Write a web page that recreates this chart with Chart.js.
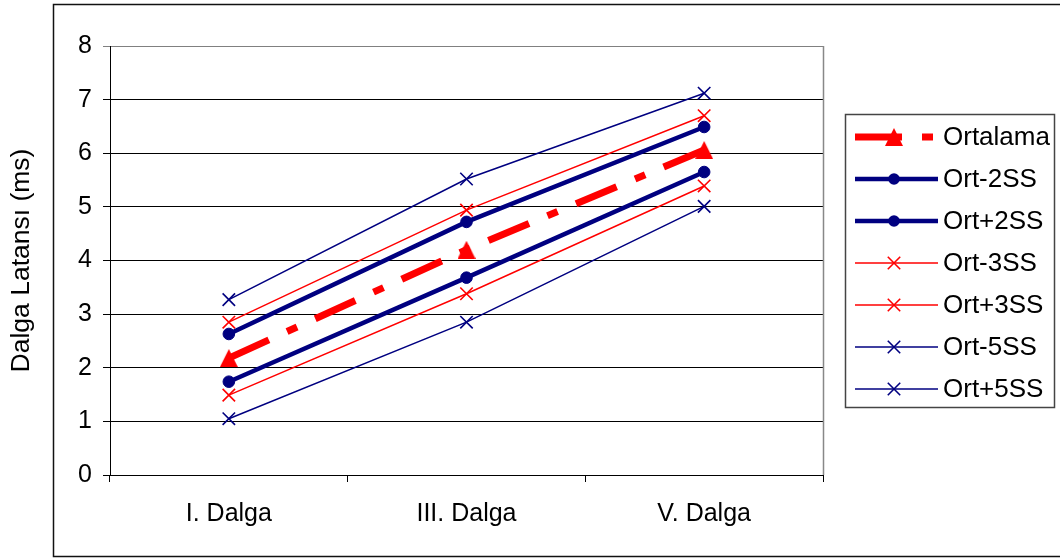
<!DOCTYPE html>
<html>
<head>
<meta charset="utf-8">
<script src="https://cdn.jsdelivr.net/npm/chart.js@4/dist/chart.umd.min.js"></script>
<style>
  html, body { margin: 0; padding: 0; background: #fff; }
  #wrap { width: 1060px; height: 560px; }
</style>
</head>
<body>
<div id="wrap"><canvas id="c" width="1060" height="560"></canvas></div>
<script>
// Wave latency categories and series (ms)
const categories = ['I. Dalga', 'III. Dalga', 'V. Dalga'];
const seriesNames = ['Ortalama', 'Ort-2SS', 'Ort+2SS', 'Ort-3SS', 'Ort+3SS', 'Ort-5SS', 'Ort+5SS'];
const ortalama = [2.18, 4.20, 6.06];
const ortMinus2 = [1.74, 3.68, 5.65];
const ortPlus2 = [2.63, 4.72, 6.49];
const ortMinus3 = [1.49, 3.38, 5.39];
const ortPlus3 = [2.85, 4.94, 6.70];
const ortMinus5 = [1.05, 2.85, 5.01];
const ortPlus5 = [3.27, 5.52, 7.12];
const yTicks = [0, 1, 2, 3, 4, 5, 6, 7, 8];
const yTitle = 'Dalga Latansı (ms)';

const FONT = '"Liberation Sans", Arial, sans-serif';
const RED = '#ff0000';
const NAVY = '#000080';

// Filled isosceles triangle marker (as wide as it is tall)
function triangleMarker(size, color) {
  const c = document.createElement('canvas');
  c.width = size; c.height = size;
  const g = c.getContext('2d');
  g.fillStyle = color;
  g.beginPath();
  g.moveTo(size / 2, 0);
  g.lineTo(size, size);
  g.lineTo(0, size);
  g.closePath();
  g.fill();
  return c;
}
const TRIANGLE = triangleMarker(18, RED);

function series(label, data, color, width, style, radius, dash) {
  return {
    label, data,
    borderColor: color, backgroundColor: color,
    borderWidth: width,
    borderDash: dash || [],
    borderCapStyle: 'butt',
    pointStyle: style,
    pointRadius: radius,
    pointHoverRadius: radius,
    pointBorderColor: color,
    pointBackgroundColor: color,
    pointBorderWidth: style === 'crossRot' ? 1.6 : 1,
    tension: 0,
    fill: false
  };
}

const datasets = [
  series(seriesNames[0], ortalama, RED, 7, TRIANGLE, 10, [44, 20, 11, 20]),
  series(seriesNames[1], ortMinus2, NAVY, 4.5, 'circle', 5.8),
  series(seriesNames[2], ortPlus2, NAVY, 4.5, 'circle', 5.8),
  series(seriesNames[3], ortMinus3, RED, 1.5, 'crossRot', 8.8),
  series(seriesNames[4], ortPlus3, RED, 1.5, 'crossRot', 8.8),
  series(seriesNames[5], ortMinus5, NAVY, 1.5, 'crossRot', 8.8),
  series(seriesNames[6], ortPlus5, NAVY, 1.5, 'crossRot', 8.8)
];

// Small marker painter used by the legend
function paintMarker(ctx, ds, x, y) {
  const r = ds.pointRadius;
  ctx.save();
  ctx.setLineDash([]);
  ctx.fillStyle = ds.pointBackgroundColor;
  ctx.strokeStyle = ds.pointBorderColor;
  ctx.lineWidth = ds.pointBorderWidth;
  ctx.beginPath();
  if (ds.pointStyle === 'circle') {
    ctx.arc(x, y, r, 0, Math.PI * 2);
    ctx.fill();
  } else if (ds.pointStyle instanceof HTMLCanvasElement) {
    const img = ds.pointStyle;
    ctx.drawImage(img, x - img.width / 2, y - img.height / 2);
  } else {
    const d = Math.cos(Math.PI / 4) * r;
    ctx.moveTo(x - d, y - d); ctx.lineTo(x + d, y + d);
    ctx.moveTo(x + d, y - d); ctx.lineTo(x - d, y + d);
    ctx.stroke();
  }
  ctx.restore();
}

const framePlugin = {
  id: 'frame',
  beforeDraw(chart) {
    const ctx = chart.ctx;
    ctx.save();
    ctx.fillStyle = '#fff';
    ctx.fillRect(0, 0, chart.width, chart.height);
    ctx.strokeStyle = '#111';
    ctx.lineWidth = 1.5;
    ctx.strokeRect(53.5, 4.5, 1020, 552);
    ctx.restore();
  },
  afterDatasetsDraw(chart) {
    const ctx = chart.ctx;
    const a = chart.chartArea;
    ctx.save();
    // right edge of plot area
    ctx.strokeStyle = '#888';
    ctx.lineWidth = 1.5;
    ctx.beginPath();
    ctx.moveTo(a.right + 0.5, a.top);
    ctx.lineTo(a.right + 0.5, a.bottom);
    ctx.stroke();

    // legend box
    const bx = 845.5, by = 114.5, bw = 209, bh = 293;
    ctx.strokeStyle = '#444';
    ctx.lineWidth = 1.5;
    ctx.strokeRect(bx, by, bw, bh);
    ctx.font = '26px ' + FONT;
    ctx.fillStyle = '#000';
    ctx.textBaseline = 'middle';
    ctx.textAlign = 'left';
    chart.data.datasets.forEach((ds, i) => {
      const y = 137 + i * 42;
      ctx.save();
      ctx.strokeStyle = ds.borderColor;
      ctx.lineWidth = ds.borderWidth;
      ctx.lineCap = 'butt';
      ctx.setLineDash(ds.borderDash.length ? [47, 20, 11, 20] : []);
      ctx.beginPath();
      ctx.moveTo(855, y);
      ctx.lineTo(938, y);
      ctx.stroke();
      ctx.restore();
      paintMarker(ctx, ds, 894, y);
      ctx.fillText(ds.label, 943, y + 1);
    });
    ctx.restore();
  }
};

new Chart(document.getElementById('c'), {
  type: 'line',
  data: { labels: categories, datasets },
  plugins: [framePlugin],
  options: {
    responsive: false,
    animation: false,
    events: [],
    layout: { padding: { left: 0, top: 46, right: 237, bottom: 0 } },
    plugins: { legend: { display: false }, tooltip: { enabled: false } },
    scales: {
      x: {
        type: 'category',
        offset: true,
        border: { display: true, color: '#000', width: 1 },
        grid: { offset: true, drawOnChartArea: false, drawTicks: true, tickLength: 7, color: '#000' },
        ticks: { color: '#000', font: { family: FONT, size: 25 }, padding: 17, maxRotation: 0 },
        afterFit(s) { s.height = 85; }
      },
      y: {
        min: 0, max: 8,
        afterBuildTicks(s) { s.ticks = yTicks.map(v => ({ value: v })); },
        border: { display: true, color: '#000', width: 1 },
        grid: {
          color: ctx => (ctx.tick && ctx.tick.value === 8) ? '#808080' : '#000',
          lineWidth: 1, tickLength: 7, drawTicks: true
        },
        ticks: { color: '#000', font: { family: FONT, size: 25 }, padding: 11 },
        title: { display: true, text: yTitle, color: '#000', font: { family: FONT, size: 26.5 }, padding: { top: 6, bottom: 0 } },
        afterFit(s) { s.width = 110; }
      }
    }
  }
});
</script>
</body>
</html>
